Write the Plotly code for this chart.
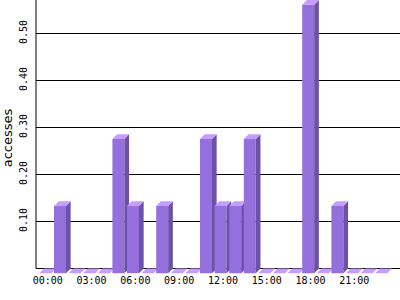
import plotly.graph_objects as go

hours = list(range(24))
hour_labels = ["00:00", "03:00", "06:00", "09:00", "12:00", "15:00", "18:00", "21:00"]
label_hours = [0, 3, 6, 9, 12, 15, 18, 21]
accesses = [0, 1/7, 0, 0, 0, 2/7, 1/7, 0, 1/7, 0, 0, 2/7,
            1/7, 1/7, 2/7, 0, 0, 0, 4/7, 0, 1/7, 0, 0, 0]
y_ticks = [0.1, 0.2, 0.3, 0.4, 0.5]
y_ticktext = ["0.10", "0.20", "0.30", "0.40", "0.50"]

FRONT = "#9370DB"
SIDE = "#6B52A8"
TOP = "#C79CFF"

half = 0.41      # half width of front face (hours)
dx = 0.32        # depth offset in x (hours)
dy = 0.010       # depth offset in y (value units)

XR = [-0.644, 24.288]
YR = [-0.016, 0.5713]

fig = go.Figure()

def poly(xs, ys, color):
    fig.add_trace(go.Scatter(x=xs + [xs[0]], y=ys + [ys[0]], mode="lines",
                             fill="toself", fillcolor=color,
                             line=dict(width=0, color=color),
                             hoverinfo="skip", showlegend=False))

for h, v in zip(hours, accesses):
    xl, xr = h - half, h + half
    if v > 0:
        poly([xl, xr, xr, xl], [-dy, -dy, v - dy, v - dy], FRONT)
        poly([xr, xr + dx, xr + dx, xr], [-dy, 0, v, v - dy], SIDE)
    poly([xl, xr, xr + dx, xl + dx], [v - dy, v - dy, v, v], TOP)

fig.add_shape(type="line", xref="paper", yref="y", x0=0, x1=0, y0=0, y1=YR[1],
              line=dict(color="black", width=1))

fig.update_layout(
    width=400, height=300,
    margin=dict(l=36, r=0, t=0, b=24),
    plot_bgcolor="white", paper_bgcolor="white",
    xaxis=dict(range=XR, tickvals=[h + dx / 2 for h in label_hours], ticktext=hour_labels,
               showgrid=False, zeroline=False, showline=False, ticks="",
               ticklabelstandoff=-3,
               tickfont=dict(family="DejaVu Sans Mono", size=10, color="black")),
    yaxis=dict(range=YR, tickvals=y_ticks, ticktext=y_ticktext, tickangle=-90,
               showgrid=True, gridcolor="black", gridwidth=1,
               zeroline=True, zerolinecolor="black", zerolinewidth=1,
               showline=False, ticks="outside", ticklen=4, tickcolor="rgba(0,0,0,0)",
               tickfont=dict(family="DejaVu Sans Mono", size=10, color="black"),
               title=dict(text="accesses", standoff=4,
                          font=dict(family="DejaVu Sans", size=13, color="black"))),
)

fig.write_html("out.html")
